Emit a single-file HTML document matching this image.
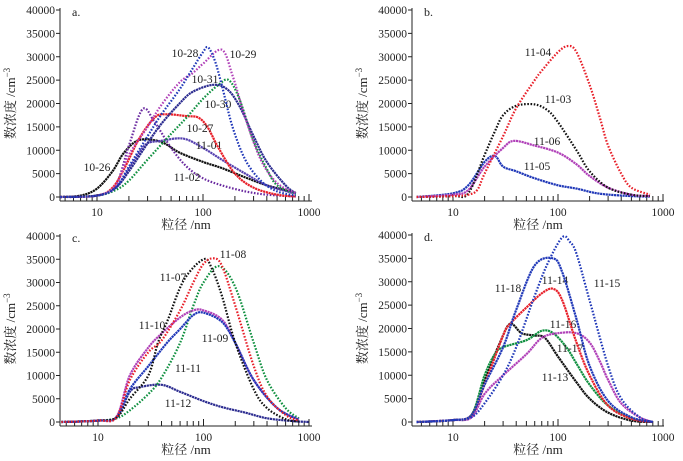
<!DOCTYPE html>
<html><head><meta charset="utf-8"><style>
html,body{margin:0;padding:0;background:#fff;}
svg{display:block;font-family:"Liberation Serif","Noto Serif CJK SC",serif;}
</style></head><body>
<svg id="chart" width="683" height="461" viewBox="0 0 683 461" xmlns="http://www.w3.org/2000/svg"></svg>
<script>
// Panel a series: [diameter nm, concentration]
const a_1026 = [[4.5,0],[7,300],[10,1800],[14,5500],[18,9500],[25,12200],[40,11800],[60,9500],[100,7500],[150,6200],[250,4200],[400,2500],[750,900]];
const a_1027 = [[4.5,0],[10,300],[14,2000],[18,6000],[25,12500],[35,17000],[45,17700],[70,17300],[90,17000],[110,15000],[140,10500],[200,5000],[300,2000],[500,500],[750,100]];
const a_1028 = [[4.5,0],[10,300],[15,2000],[20,6500],[30,13000],[40,17500],[60,23000],[80,27500],[100,31000],[112,32000],[130,29000],[150,24000],[190,15000],[250,8000],[350,3500],[500,1200],[750,300]];
const a_1029 = [[4.5,0],[10,300],[15,2500],[20,9000],[30,15000],[40,19500],[60,24500],[80,26500],[100,28500],[150,31500],[190,26000],[250,17000],[350,8000],[500,3000],[750,800]];
const a_1030 = [[4.5,0],[10,300],[15,1500],[20,3500],[30,8000],[50,13500],[70,17000],[100,21000],[140,24000],[175,25000],[220,21000],[300,12000],[400,6000],[500,2500],[750,700]];
const a_1031 = [[4.5,0],[10,300],[15,2000],[20,5500],[30,11500],[40,15500],[60,20000],[80,22500],[125,24000],[170,23000],[220,19500],[300,13000],[400,7500],[600,2500],[750,800]];
const a_1101 = [[4.5,0],[10,300],[15,2000],[20,6000],[25,9500],[30,11500],[40,12000],[65,12500],[100,10500],[150,8000],[250,5000],[400,2500],[750,700]];
const a_1102 = [[4.5,0],[10,300],[15,2500],[20,11000],[27,18800],[35,16000],[50,10500],[70,6500],[100,4000],[150,2500],[250,1200],[400,500],[750,100]];
// Panel b
const b_1103 = [[4.5,0],[10,200],[14,800],[20,9000],[25,14000],[30,17500],[40,19500],[60,19800],[80,18500],[100,16000],[150,10000],[200,5500],[300,2000],[500,500],[750,200]];
const b_1104 = [[4.5,0],[10,200],[14,500],[17,1500],[20,5000],[30,13000],[40,19000],[60,25000],[70,27000],[100,31000],[125,32300],[150,31000],[200,24000],[250,17000],[300,11000],[400,5000],[500,2000],[750,500]];
const b_1105 = [[4.5,0],[10,800],[14,2500],[20,7500],[25,8800],[30,6500],[40,5500],[60,4000],[100,2500],[150,1800],[250,700],[500,200],[750,100]];
const b_1106 = [[4.5,0],[10,500],[14,1500],[20,6500],[30,10500],[38,12000],[60,11000],[100,9500],[150,7000],[200,4500],[300,2000],[500,500],[750,200]];
// Panel c
const c_1107 = [[4.5,0],[10,300],[15,1000],[20,5000],[30,10000],[37,17000],[46,22000],[65,30500],[100,35000],[120,33000],[150,27000],[200,17000],[300,7000],[400,3000],[600,600],[800,100]];
const c_1108 = [[4.5,0],[10,300],[15,1000],[20,9000],[30,15000],[40,17500],[60,24000],[80,30000],[100,34000],[125,35200],[150,33500],[200,25000],[300,12000],[400,5500],[600,1500],[800,300]];
const c_1109 = [[4.5,0],[10,300],[15,1000],[20,7000],[30,12000],[45,17000],[60,20000],[80,23000],[100,23500],[150,21500],[200,17000],[300,9000],[500,3000],[800,500]];
const c_1110 = [[4.5,0],[10,300],[15,1200],[20,10000],[30,16000],[40,19000],[60,22500],[80,24000],[100,24000],[150,22000],[200,17000],[300,9000],[500,3000],[800,500]];
const c_1111 = [[4.5,0],[10,300],[15,800],[20,2500],[30,6000],[40,9500],[60,17000],[80,25000],[100,30000],[140,33500],[200,29000],[300,17000],[400,9000],[600,3000],[800,800]];
const c_1112 = [[4.5,0],[10,300],[15,1000],[20,6500],[25,7500],[40,8000],[60,6500],[100,4500],[150,3200],[250,2000],[400,800],[700,200],[1000,0]];
// Panel d
const d_1113 = [[4.5,0],[10,400],[15,1500],[20,9000],[28,17000],[35,21000],[45,19000],[60,18500],[75,18000],[100,14000],[150,8500],[200,5000],[300,2000],[500,300],[800,0]];
const d_1114 = [[4.5,0],[10,400],[15,1500],[20,8000],[30,18500],[35,21000],[50,24500],[70,27500],[90,28500],[110,26000],[150,17000],[200,10000],[300,3500],[500,700],[800,0]];
const d_1115 = [[4.5,0],[10,400],[15,1000],[20,4000],[30,10000],[40,16000],[60,27000],[80,34000],[110,39500],[130,38500],[150,36000],[200,26000],[300,12000],[400,5000],[600,1000],[800,0]];
const d_1116 = [[4.5,0],[10,400],[15,1000],[20,6000],[30,10000],[50,14500],[70,18000],[100,19000],[150,19000],[200,17000],[250,13000],[300,9000],[400,4000],[600,1000],[800,0]];
const d_1117 = [[4.5,0],[10,400],[15,1500],[20,10000],[25,14500],[30,16000],[50,17500],[70,19500],[90,19000],[120,16000],[150,12500],[200,8000],[300,3500],[500,800],[800,0]];
const d_1118 = [[4.5,0],[10,400],[15,1500],[20,8000],[30,16000],[40,24000],[60,33500],[90,35000],[110,32000],[150,22000],[200,12000],[300,4500],[500,1000],[800,0]];
const yTicks = [0,5000,10000,15000,20000,25000,30000,35000,40000];
const xTickLabels = [10,100,1000];

const NS="http://www.w3.org/2000/svg";
const svg=document.getElementById('chart');
const C={black:'#111',red:'#e8202a',blue:'#2038b8',mag:'#b040b8',pur:'#6a2aa0',green:'#109040',navy:'#2c2c90',vio:'#5540b0'};
function mk(tag,attrs,parent){const e=document.createElementNS(NS,tag);for(const k in attrs)e.setAttribute(k,attrs[k]);(parent||svg).appendChild(e);return e;}
function smooth(pts){let d='M'+pts[0][0].toFixed(1)+','+pts[0][1].toFixed(1);
 for(let i=0;i<pts.length-1;i++){const p0=pts[Math.max(0,i-1)],p1=pts[i],p2=pts[i+1],p3=pts[Math.min(pts.length-1,i+2)];
  const c1=[p1[0]+(p2[0]-p0[0])/6,p1[1]+(p2[1]-p0[1])/6],c2=[p2[0]-(p3[0]-p1[0])/6,p2[1]-(p3[1]-p1[1])/6];
  d+='C'+c1[0].toFixed(1)+','+c1[1].toFixed(1)+' '+c2[0].toFixed(1)+','+c2[1].toFixed(1)+' '+p2[0].toFixed(1)+','+p2[1].toFixed(1);}
 return d;}
function panel(p){
 const g=mk('g',{});
 
 
 const xs=v=>p.x10+(Math.log10(v)-1)*p.dec;
 const ys=v=>p.y0-(v/40000)*(p.y0-p.y40);
 const axis=p.y0+4;
 // y axis
 const ya=mk('g',{},g);
 
 
 mk('line',{x1:p.left,y1:p.y40-2,x2:p.left,y2:axis,stroke:'#222','stroke-width':1},ya);
 yTicks.forEach(t=>{const y=ys(t);
  mk('line',{x1:p.left-4,y1:y,x2:p.left,y2:y,stroke:'#222','stroke-width':1},ya);
  const tx=mk('text',{x:p.left-5,y:y+4,'text-anchor':'end','font-size':11.5,fill:'#222'},ya);tx.textContent=t;
  
  
 });
 // x axis
 const xa=mk('g',{},g);
 
 
 mk('line',{x1:p.left,y1:axis,x2:p.right,y2:axis,stroke:'#222','stroke-width':1},xa);
 for(let dec=1;dec<=1000;dec*=10){for(let m=1;m<10;m++){const v=dec*m;if(v<4.5||v>1000)continue;const x=xs(v);
  mk('line',{x1:x,y1:axis,x2:x,y2:axis-(m===1?7:5),stroke:'#222','stroke-width':1},xa);}}
 xTickLabels.forEach(v=>{const tx=mk('text',{x:xs(v),y:axis+15,'text-anchor':'middle','font-size':11.5,fill:'#222'},xa);tx.textContent=v;
  
  });
 const xl=mk('text',{x:(p.left+p.right)/2,y:axis+28,'text-anchor':'middle','font-size':13,fill:'#222'},g);xl.textContent='粒径 /nm';
 
 
 const yl=mk('text',{x:0,y:0,'text-anchor':'middle','font-size':13,fill:'#222',transform:`translate(${p.left-45},${(p.y0+p.y40)/2}) rotate(-90)`},g);
 yl.innerHTML='数浓度 /cm<tspan dy="-5" font-size="9">−3</tspan>';
 
 
 const pl=mk('text',{x:p.left+12,y:p.y40+6,'font-size':12,fill:'#222'},g);pl.textContent=p.id+'.';
 
 
 p.series.forEach(s=>{const pts=s.data.map(d=>[xs(d[0]),ys(d[1])]);
  const path=mk('path',{d:smooth(pts),fill:'none',stroke:s.c,'stroke-width':2.2,'stroke-dasharray':s.dot?'1.6 1.6':'2.2 0.6'},g);
  
  
  const t=mk('text',{x:s.lx,y:s.ly+4,'text-anchor':'middle','font-size':11.5,fill:'#222'},g);t.textContent=s.n;
  
  
 });
}
panel({id:'a',left:60,right:312,x10:97,dec:106,y0:197,y40:10,series:[
 {n:'10-26',data:a_1026,c:C.black,lx:97,ly:167},
 {n:'11-01',data:a_1101,c:C.vio,lx:209,ly:145},
 {n:'11-02',data:a_1102,c:C.pur,dot:1,lx:187,ly:177},
 {n:'10-27',data:a_1027,c:C.red,lx:200,ly:128},
 {n:'10-30',data:a_1030,c:C.green,dot:1,lx:218,ly:104},
 {n:'10-31',data:a_1031,c:C.navy,lx:205,ly:79},
 {n:'10-29',data:a_1029,c:C.mag,dot:1,lx:243,ly:54},
 {n:'10-28',data:a_1028,c:C.blue,dot:1,lx:185,ly:53}]});
panel({id:'b',left:412,right:664,x10:453,dec:105,y0:197,y40:10,series:[
 {n:'11-05',data:b_1105,c:C.blue,lx:537,ly:166},
 {n:'11-06',data:b_1106,c:C.mag,lx:547,ly:141},
 {n:'11-03',data:b_1103,c:C.black,dot:1,lx:558,ly:99},
 {n:'11-04',data:b_1104,c:C.red,dot:1,lx:538,ly:52}]});
panel({id:'c',left:60,right:312,x10:98,dec:105.5,y0:422,y40:236,series:[
 {n:'11-12',data:c_1112,c:C.navy,lx:178,ly:403},
 {n:'11-11',data:c_1111,c:C.green,dot:1,lx:188,ly:368},
 {n:'11-10',data:c_1110,c:C.mag,lx:152,ly:325},
 {n:'11-09',data:c_1109,c:C.blue,lx:215,ly:338},
 {n:'11-07',data:c_1107,c:C.black,dot:1,lx:173,ly:277},
 {n:'11-08',data:c_1108,c:C.red,dot:1,lx:233,ly:254}]});
panel({id:'d',left:412,right:664,x10:453,dec:105,y0:422,y40:235,series:[
 {n:'11-13',data:d_1113,c:C.black,lx:555,ly:377},
 {n:'11-17',data:d_1117,c:C.green,lx:570,ly:348},
 {n:'11-16',data:d_1116,c:C.mag,lx:563,ly:324},
 {n:'11-14',data:d_1114,c:C.red,lx:555,ly:280},
 {n:'11-18',data:d_1118,c:C.blue,lx:508,ly:288},
 {n:'11-15',data:d_1115,c:C.blue,dot:1,lx:607,ly:283}]});
</script>
</body></html>
